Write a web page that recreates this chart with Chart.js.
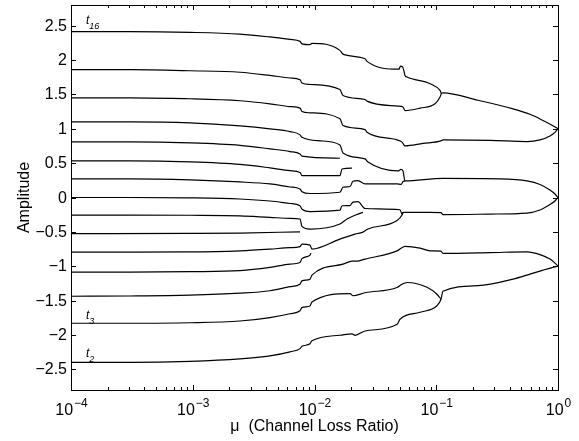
<!DOCTYPE html>
<html>
<head>
<meta charset="utf-8">
<script src="https://cdn.jsdelivr.net/npm/chart.js@4.4.1/dist/chart.umd.min.js"></script>
<style>
  body { margin: 0; background: #fff; }
  canvas { display: block; }
</style>
</head>
<body>
<canvas id="chart" width="579" height="441"></canvas>
<script>
// ================= DATA =================
// x values are log10(mu), y values are amplitudes, one pair of arrays per threshold
const t16x = [-4, -3.515, -3.023, -2.612, -2.366, -2.201, -2.119, -2.103, -2.037, -2.021, -1.791, -1.766, -1.585, -1.569, -1.306, -1.294, -1.277, -1.265, -1.257, -1.240, -1.051, -0.969, -0.957, -0.945, -0.657, -0.370, -0.230, -0.123, -0.049, 0];
const t16y = [2.413, 2.413, 2.402, 2.376, 2.335, 2.300, 2.271, 2.235, 2.223, 2.242, 2.140, 2.085, 2.019, 1.980, 1.866, 1.910, 1.902, 1.837, 1.776, 1.752, 1.655, 1.557, 1.516, 1.523, 1.414, 1.290, 1.210, 1.120, 1.050, 1.0];

const t15x = [-4, -3.515, -3.023, -2.612, -2.366, -2.201, -2.119, -2.103, -2.037, -1.791, -1.766, -1.585, -1.569, -1.314, -1.273, -1.257, -1.133, -1.010, -0.969, -0.957];
const t15y = [1.859, 1.859, 1.844, 1.822, 1.776, 1.738, 1.713, 1.665, 1.644, 1.571, 1.484, 1.426, 1.402, 1.329, 1.315, 1.265, 1.300, 1.363, 1.461, 1.516];

const t14x = [-4, -3.515, -3.023, -2.612, -2.366, -2.201, -2.119, -2.103, -2.037, -1.791, -1.766, -1.585, -1.569, -1.322, -1.281, -1.257, -1.109, -0.961, -0.945, -0.559, -0.255, -0.148, -0.066, -0.025, 0];
const t14y = [1.450, 1.448, 1.436, 1.407, 1.363, 1.322, 1.300, 1.251, 1.232, 1.144, 1.047, 0.988, 0.950, 0.838, 0.805, 0.751, 0.787, 0.824, 0.838, 0.831, 0.813, 0.838, 0.896, 0.948, 1.0];

const t13x = [-4, -3.515, -3.023, -2.612, -2.366, -2.201, -2.119, -2.103, -1.955, -1.791, -1.766, -1.585, -1.561, -1.314, -1.290, -1.273, -1.257, -0.945, -0.476, -0.255, -0.148, -0.066, -0.025, 0];
const t13y = [1.101, 1.101, 1.086, 1.042, 0.999, 0.959, 0.911, 0.875, 0.824, 0.765, 0.648, 0.561, 0.517, 0.386, 0.408, 0.386, 0.241, 0.277, 0.270, 0.241, 0.190, 0.109, 0.051, 0];

const t12x = [-4, -3.515, -3.023, -2.612, -2.366, -2.201, -2.119, -2.103, -1.791];
const t12y = [0.809, 0.809, 0.794, 0.758, 0.707, 0.668, 0.634, 0.601, 0.571];

const t11x = [-4, -3.515, -3.023, -2.612, -2.366, -2.201, -2.119, -2.103, -1.791, -1.774, -1.692];
const t11y = [0.532, 0.532, 0.517, 0.481, 0.431, 0.391, 0.364, 0.318, 0.318, 0.415, 0.426];

const t10x = [-4, -3.515, -3.023, -2.612, -2.366, -2.201, -2.119, -2.103, -2.037, -1.791, -1.766, -1.708, -1.684, -1.643, -1.585, -1.322, -1.290, -1.273, -1.257];
const t10y = [0.270, 0.270, 0.255, 0.226, 0.197, 0.153, 0.124, 0.085, 0.058, 0.076, 0.149, 0.160, 0.236, 0.245, 0.197, 0.197, 0.190, 0.233, 0.241];

const t9x = [-4, -3.515, -3.023, -2.612, -2.366, -2.201, -2.119, -2.103, -2.037, -1.791, -1.774, -1.708, -1.684, -1.643, -1.585, -1.298, -1.281, -1.273, -1.051, -0.961, -0.945, -0.559, -0.255, -0.148, -0.066, -0.025, 0];
const t9y = [0, 0, -0.005, -0.022, -0.051, -0.087, -0.120, -0.168, -0.204, -0.185, -0.120, -0.117, -0.066, -0.061, -0.160, -0.178, -0.241, -0.216, -0.216, -0.219, -0.248, -0.241, -0.226, -0.182, -0.102, -0.051, 0];

const t8x = [-4, -3.515, -3.023, -2.612, -2.366, -2.201, -2.119, -2.103, -2.037, -1.791, -1.733, -1.643, -1.602];
const t8y = [-0.255, -0.255, -0.258, -0.267, -0.289, -0.303, -0.313, -0.420, -0.459, -0.386, -0.313, -0.241, -0.216];

const t7x = [-4, -3.023, -2.612, -2.119];
const t7y = [-0.525, -0.522, -0.517, -0.499];

const t6x = [-4, -3.515, -3.023, -2.612, -2.366, -2.201, -2.119, -2.103, -2.037, -2.021, -1.791, -1.667, -1.602, -1.561, -1.322, -1.281, -1.273];
const t6y = [-0.794, -0.794, -0.792, -0.776, -0.751, -0.729, -0.714, -0.678, -0.693, -0.751, -0.605, -0.532, -0.503, -0.459, -0.335, -0.255, -0.219];

const t5x = [-4, -3.515, -3.023, -2.612, -2.366, -2.201, -2.119, -2.103, -2.037, -2.029];
const t5y = [-1.086, -1.086, -1.079, -1.064, -1.017, -0.969, -0.945, -0.889, -0.838, -0.809];

const t4x = [-4, -3.515, -3.023, -2.612, -2.366, -2.201, -2.119, -2.103, -2.037, -2.021, -1.766, -1.692, -1.651, -1.585, -1.322, -1.257, -1.133, -1.051, -0.961, -0.945, -0.559, -0.255, -0.148, -0.066, -0.025, 0];
const t4y = [-1.436, -1.433, -1.421, -1.392, -1.356, -1.297, -1.261, -1.213, -1.188, -1.130, -0.969, -0.926, -0.926, -0.896, -0.776, -0.711, -0.736, -0.776, -0.780, -0.813, -0.802, -0.790, -0.831, -0.896, -0.955, -1];

const t3x = [-4, -3.515, -3.023, -2.612, -2.366, -2.201, -2.119, -2.103, -2.037, -2.021, -1.708, -1.684, -1.585, -1.322, -1.281, -1.240, -1.076, -0.994, -0.961];
const t3y = [-1.829, -1.829, -1.822, -1.796, -1.746, -1.691, -1.647, -1.601, -1.577, -1.519, -1.397, -1.429, -1.385, -1.309, -1.261, -1.236, -1.305, -1.407, -1.480];

const t2x = [-4, -3.515, -3.023, -2.612, -2.366, -2.201, -2.119, -2.103, -2.037, -2.021, -1.791, -1.692, -1.667, -1.585, -1.322, -1.298, -1.133, -0.994, -0.961, -0.945, -0.657, -0.370, -0.230, -0.123, -0.049, 0];
const t2y = [-2.398, -2.398, -2.383, -2.347, -2.303, -2.245, -2.198, -2.165, -2.128, -2.085, -2.004, -1.983, -2.004, -1.942, -1.844, -1.771, -1.669, -1.574, -1.480, -1.363, -1.283, -1.188, -1.115, -1.057, -1.020, -1];

// curve labels (t with subscript)
const labelSubs = ["16", "3", "2"];
const labelX = [-3.877, -3.877, -3.877];
const labelY = [2.53, -1.771, -2.315];

// ticks
const xTickExp = [-4, -3, -2, -1, 0];
const yTicks = [-2.5, -2, -1.5, -1, -0.5, 0, 0.5, 1, 1.5, 2, 2.5];

const xTitle = "\u03bc  (Channel Loss Ratio)";
const yTitle = "Amplitude";

// ================= BUILD =================
const curves = [
  [t16x, t16y], [t15x, t15y], [t14x, t14y], [t13x, t13y], [t12x, t12y],
  [t11x, t11y], [t10x, t10y], [t9x, t9y], [t8x, t8y], [t7x, t7y],
  [t6x, t6y], [t5x, t5y], [t4x, t4y], [t3x, t3y], [t2x, t2y]
];

const datasets = curves.map(([xs, ys]) => ({
  data: xs.map((e, i) => ({ x: Math.pow(10, e), y: ys[i] })),
  showLine: true,
  borderColor: "#000",
  borderWidth: 1.2,
  pointRadius: 0,
  cubicInterpolationMode: "monotone",
  fill: false
}));

const FONT = '"Liberation Sans", Arial, Helvetica, sans-serif';

// ================= AXES / TEXT =================
const frame = {
  id: "frame",
  afterDraw(chart) {
    const ctx = chart.ctx;
    const a = chart.chartArea;
    const xs = chart.scales.x;
    const ys = chart.scales.y;

    ctx.save();
    ctx.strokeStyle = "#000";
    ctx.fillStyle = "#000";
    ctx.lineWidth = 1;

    // box
    ctx.strokeRect(a.left + 0.5, a.top + 0.5, a.right - a.left, a.bottom - a.top);

    // y ticks
    ctx.font = "16px " + FONT;
    ctx.textAlign = "right";
    ctx.textBaseline = "middle";
    yTicks.forEach(v => {
      const py = Math.round(ys.getPixelForValue(v)) + 0.5;
      ctx.beginPath();
      ctx.moveTo(a.left, py); ctx.lineTo(a.left + 5, py);
      ctx.moveTo(a.right, py); ctx.lineTo(a.right - 5, py);
      ctx.stroke();
      const txt = String(Math.abs(v));
      ctx.fillText((v < 0 ? "\u2212" : "") + txt, a.left - 4, py);
    });

    // x ticks, major and minor
    for (let d = -4; d <= 0; d++) {
      for (let k = 1; k <= 9; k++) {
        if (d === 0 && k > 1) break;
        const px = Math.round(xs.getPixelForValue(k * Math.pow(10, d))) + 0.5;
        const len = k === 1 ? 5 : 3;
        ctx.beginPath();
        ctx.moveTo(px, a.bottom); ctx.lineTo(px, a.bottom - len);
        ctx.moveTo(px, a.top); ctx.lineTo(px, a.top + len);
        ctx.stroke();
      }
    }

    // x tick labels 10^n
    ctx.textAlign = "left";
    ctx.textBaseline = "alphabetic";
    xTickExp.forEach(e => {
      const px = xs.getPixelForValue(Math.pow(10, e));
      const sup = e < 0 ? "\u2212" + Math.abs(e) : String(e);
      ctx.font = "16px " + FONT;
      const w1 = ctx.measureText("10").width;
      ctx.font = "12px " + FONT;
      const w2 = ctx.measureText(sup).width;
      const x0 = px - (w1 + w2) / 2;
      ctx.font = "16px " + FONT;
      ctx.fillText("10", x0, 415);
      ctx.font = "12px " + FONT;
      ctx.fillText(sup, x0 + w1 + 1, 407);
    });

    // axis titles
    ctx.font = "16px " + FONT;
    ctx.textAlign = "center";
    ctx.fillText(xTitle, (a.left + a.right) / 2, 431);

    ctx.save();
    ctx.translate(25, (a.top + a.bottom) / 2);
    ctx.rotate(-Math.PI / 2);
    ctx.textBaseline = "middle";
    ctx.fillText(yTitle, 0, 0);
    ctx.restore();

    // curve labels
    ctx.textAlign = "left";
    labelSubs.forEach((s, i) => {
      const px = xs.getPixelForValue(Math.pow(10, labelX[i]));
      const py = ys.getPixelForValue(labelY[i]);
      ctx.font = "italic 12px " + FONT;
      ctx.fillText("t", px, py);
      const w = ctx.measureText("t").width;
      ctx.font = "italic 9px " + FONT;
      ctx.fillText(s, px + w, py + 5);
    });

    ctx.restore();
  }
};

// ================= CHART =================
const chart = new Chart(document.getElementById("chart"), {
  type: "scatter",
  data: { datasets },
  options: {
    responsive: false,
    animation: false,
    layout: { padding: { left: 71, right: 21, top: 5, bottom: 51 } },
    plugins: { legend: { display: false }, tooltip: { enabled: false } },
    scales: {
      x: { type: "logarithmic", min: 1e-4, max: 1, display: false },
      y: { type: "linear", min: -2.8, max: 2.8, display: false }
    }
  },
  plugins: [frame]
});
</script>
</body>
</html>
